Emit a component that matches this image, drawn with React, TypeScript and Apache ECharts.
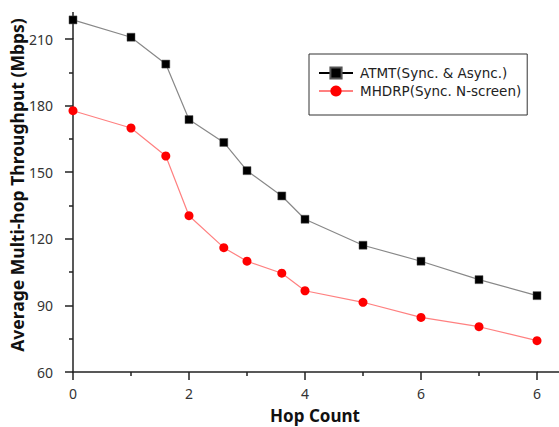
import React, { useEffect, useRef } from "react";
import * as echarts from "echarts";

const xValues = [0, 1, 1.6, 2, 2.6, 3, 3.6, 4, 5, 6, 7, 8];
const atmt = [218.6, 210.8, 198.7, 173.7, 163.4, 150.7, 139.3, 128.8, 117.1, 109.9, 101.6, 94.4];
const mhdrp = [177.7, 169.9, 157.3, 130.4, 116.0, 109.9, 104.5, 96.6, 91.4, 84.6, 80.4, 74.1];
const xTickValues = [0, 2, 4, 6, 8];
const xTickLabels = ["0", "2", "4", "6", "6"];
const seriesNames = ["ATMT(Sync. & Async.)", "MHDRP(Sync. N-screen)"];

const FONT = "'Noto Sans', 'Open Sans', sans-serif";
const LEGEND_FONT = "'DejaVu Sans', sans-serif";

export default function App() {
  const ref = useRef<HTMLDivElement>(null);
  useEffect(() => {
    if (!ref.current) return;
    const chart = echarts.init(ref.current, undefined, { renderer: "svg" });
    const axisColor = "#222";
    chart.setOption({
      animation: false,
      backgroundColor: "#fff",
      grid: { left: 73, top: 39, right: 22, bottom: 55, containLabel: false },
      legend: {
        orient: "vertical",
        left: 309,
        top: 54,
        padding: [11, 6, 16, 9],
        itemGap: 2,
        itemWidth: 34,
        itemHeight: 14,
        borderColor: "#333",
        borderWidth: 1,
        textStyle: { fontFamily: LEGEND_FONT, fontSize: 13.5, lineHeight: 16, color: "#222", padding: [0, 0, 0, 2] },
        data: [
          { name: seriesNames[0], lineStyle: { color: "#000" } },
          { name: seriesNames[1] },
        ],
      },
      xAxis: {
        type: "value",
        min: 0,
        max: 8,
        interval: 2,
        axisLine: { show: true, lineStyle: { color: axisColor, width: 1.5 } },
        axisTick: { show: true, length: 8, lineStyle: { color: axisColor, width: 1.5 } },
        minorTick: { show: true, splitNumber: 2, length: 4, lineStyle: { color: axisColor, width: 1.5 } },
        splitLine: { show: false },
        axisLabel: {
          margin: 14,
          fontFamily: FONT,
          fontSize: 14,
          color: "#333",
          formatter: (v: number) => {
            const i = xTickValues.indexOf(v);
            return i >= 0 ? xTickLabels[i] : "";
          },
        },
      },
      yAxis: {
        type: "value",
        min: 60,
        max: 210,
        interval: 30,
        axisLine: { show: true, lineStyle: { color: axisColor, width: 1.5 } },
        axisTick: { show: true, length: 8, lineStyle: { color: axisColor, width: 1.5 } },
        minorTick: { show: true, splitNumber: 2, length: 4, lineStyle: { color: axisColor, width: 1.5 } },
        splitLine: { show: false },
        axisLabel: { margin: 20, fontFamily: FONT, fontSize: 14, color: "#333" },
      },
      graphic: [
        {
          type: "line",
          shape: { x1: 73, y1: 12, x2: 73, y2: 39 },
          style: { stroke: axisColor, lineWidth: 1.5 },
        },
        {
          type: "line",
          shape: { x1: 537, y1: 372, x2: 559, y2: 372 },
          style: { stroke: axisColor, lineWidth: 1.5 },
        },
        {
          type: "text",
          x: 17,
          y: 185,
          rotation: Math.PI / 2,
          style: {
            text: "Average Multi-hop Throughput (Mbps)",
            font: "bold 17.5px " + FONT,
            fill: "#111",
            textAlign: "center",
            textVerticalAlign: "middle",
          },
        },
        {
          type: "text",
          x: 315,
          y: 415,
          style: {
            text: "Hop Count",
            font: "bold 17px " + FONT,
            fill: "#111",
            textAlign: "center",
            textVerticalAlign: "middle",
          },
        },
      ],
      series: [
        {
          name: seriesNames[0],
          type: "line",
          clip: false,
          data: xValues.map((x, i) => [x, atmt[i]]),
          symbol: "rect",
          symbolSize: 8,
          itemStyle: { color: "#000", borderColor: "#555", borderWidth: 0.5 },
          lineStyle: { color: "#888", width: 1.2 },
        },
        {
          name: seriesNames[1],
          type: "line",
          clip: false,
          data: xValues.map((x, i) => [x, mhdrp[i]]),
          symbol: "circle",
          symbolSize: 9,
          itemStyle: { color: "#ff0000" },
          lineStyle: { color: "#ff8080", width: 1.2 },
        },
      ],
    });
    return () => chart.dispose();
  }, []);
  return (
    <div
      ref={ref}
      style={{ position: "absolute", left: 0, top: 0, width: 559, height: 427, background: "#fff" }}
    />
  );
}
